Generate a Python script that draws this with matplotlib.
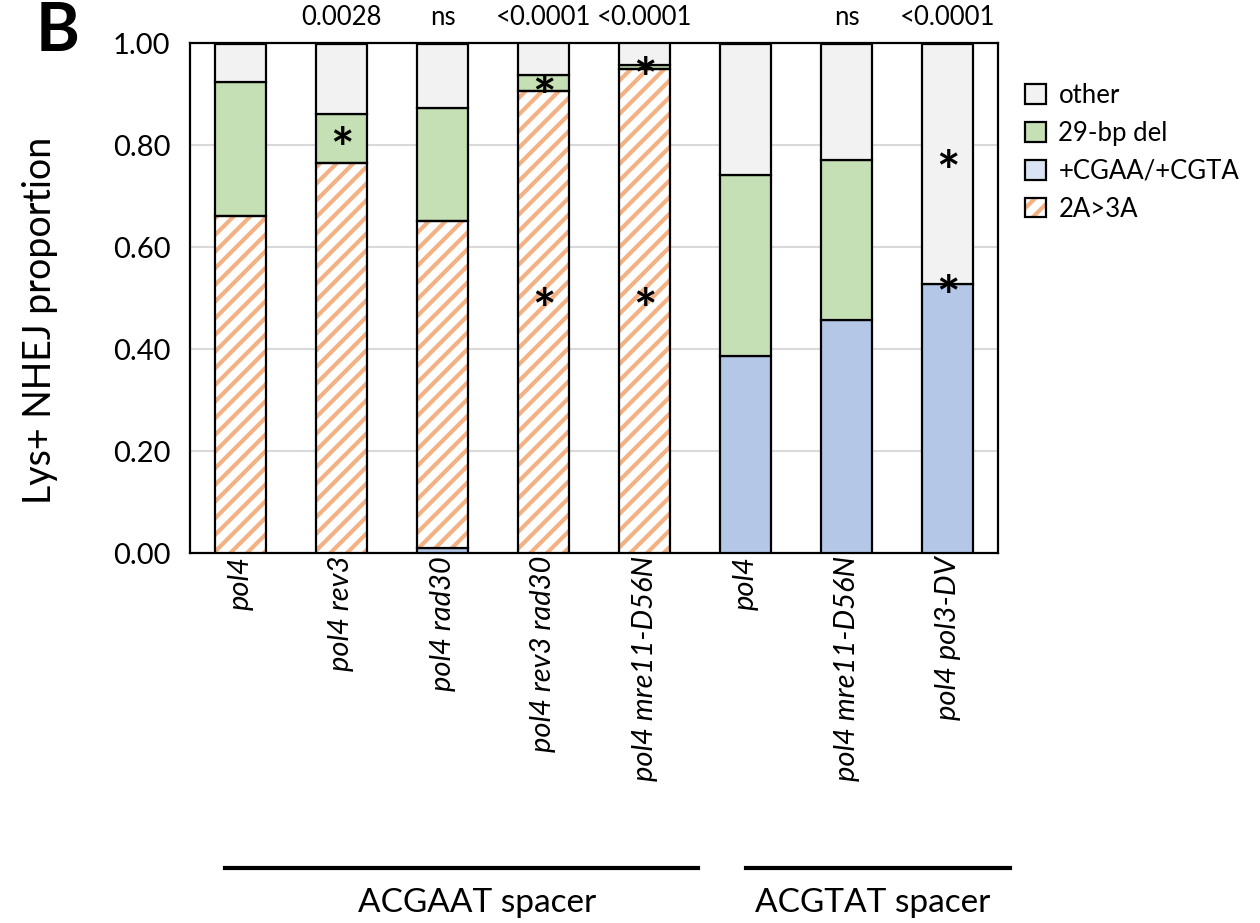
import numpy as np
import matplotlib
matplotlib.use('Agg')
import matplotlib.pyplot as plt
from matplotlib.patches import Patch
from matplotlib.legend_handler import HandlerTuple
import matplotlib.transforms as mtransforms

plt.rcParams['font.family'] = ['Lato', 'DejaVu Sans']
plt.rcParams['hatch.linewidth'] = 3.0

# ---------------- data ----------------
strains = ['pol4', 'pol4 rev3', 'pol4 rad30', 'pol4 rev3 rad30', 'pol4 mre11-D56N',
           'pol4', 'pol4 mre11-D56N', 'pol4 pol3-DV']
ins_blue = [0.0, 0.0, 0.010, 0.0, 0.0, 0.387, 0.457, 0.527]      # +CGAA/+CGTA
a2a3 = [0.661, 0.765, 0.642, 0.906, 0.949, 0.0, 0.0, 0.0]       # 2A>3A
del29 = [0.263, 0.097, 0.221, 0.032, 0.009, 0.355, 0.314, 0.0]   # 29-bp del
pvals = ['', '0.0028', 'ns', '<0.0001', '<0.0001', '', 'ns', '<0.0001']
# asterisks: (bar index, y)
stars = [(1, 0.815), (3, 0.917), (3, 0.50), (4, 0.952), (4, 0.50), (7, 0.77), (7, 0.525)]
groups = ['ACGAAT spacer', 'ACGTAT spacer']

ins_blue = np.array(ins_blue)
a2a3 = np.array(a2a3)
del29 = np.array(del29)
other = 1 - ins_blue - a2a3 - del29

c_other = '#f2f2f2'
c_green = '#c5e0b4'
c_blue = '#b4c7e7'
c_blue_leg = '#dae3f3'
c_orange = '#f4b183'

fig = plt.figure(figsize=(12.6, 9.23), dpi=100)
ax = fig.add_axes([190/1260, 1-553/923, (998-190)/1260, (553-43.5)/923])

x = np.arange(len(strains))
w = 0.5
lw = 1.6

for i in x:
    bot = 0
    if ins_blue[i] > 0:
        ax.bar(i, ins_blue[i], w, bottom=bot, color=c_blue, edgecolor='black', linewidth=lw, zorder=3)
        bot += ins_blue[i]
    if a2a3[i] > 0:
        ax.bar(i, a2a3[i], w, bottom=bot, color='white', edgecolor=c_orange, hatch='//',
               linewidth=0, zorder=3)
        ax.bar(i, a2a3[i], w, bottom=bot, color='none', edgecolor='black', linewidth=lw, zorder=4)
        bot += a2a3[i]
    if del29[i] > 0:
        ax.bar(i, del29[i], w, bottom=bot, color=c_green, edgecolor='black', linewidth=lw, zorder=3)
        bot += del29[i]
    ax.bar(i, other[i], w, bottom=bot, color=c_other, edgecolor='black', linewidth=lw, zorder=3)

# asterisk glyph sits above its box centre, so nudge it down a little
for i, yv in stars:
    ax.text(i, yv - 0.028, '*', ha='center', va='center', fontsize=40, fontweight='bold', zorder=6)

for i, p in enumerate(pvals):
    if p:
        ax.text(i, 1.026, p, ha='center', va='bottom', fontsize=18.5)

ax.set_xlim(-0.5, len(strains) - 0.5)
ax.set_ylim(0, 1)
yt = np.arange(0, 1.01, 0.2)
ax.set_yticks(yt)
ax.set_yticklabels(['{:.2f}'.format(v) for v in yt], fontsize=21)
ax.set_xticks(x)
ax.set_xticklabels(strains, rotation=90, fontsize=21, style='italic')
ax.tick_params(axis='y', length=0, pad=14)
ax.tick_params(axis='x', length=0, pad=2)
ax.grid(axis='y', color='#d9d9d9', linewidth=1.5, zorder=0)
ax.set_axisbelow(True)
for s in ax.spines.values():
    s.set_linewidth(1.6)

# legend
h_other = Patch(facecolor=c_other, edgecolor='black', linewidth=1.6)
h_green = Patch(facecolor=c_green, edgecolor='black', linewidth=1.6)
h_blue = Patch(facecolor=c_blue_leg, edgecolor='black', linewidth=1.6)
h_hatch = (Patch(facecolor='white', edgecolor=c_orange, hatch='//', linewidth=0),
           Patch(facecolor='none', edgecolor='black', linewidth=1.6))
fig.legend([h_other, h_green, h_blue, h_hatch], ['other', '29-bp del', '+CGAA/+CGTA', '2A>3A'],
           handler_map={tuple: HandlerTuple(ndivide=1, pad=0)},
           loc='upper left', bbox_to_anchor=(1025/1260, 1-83/923), frameon=False,
           borderpad=0, borderaxespad=0,
           fontsize=18.5, handlelength=0.8, handleheight=0.8, handletextpad=0.5,
           labelspacing=0.5)

# group lines and labels
trans = mtransforms.blended_transform_factory(ax.transData, fig.transFigure)
ax.plot([-0.153, 4.53], [1-868/923]*2, color='black', lw=3, transform=trans, clip_on=False)
ax.plot([5.0, 7.62], [1-868/923]*2, color='black', lw=3, transform=trans, clip_on=False)
ax.text(2.34, 1-903/923, groups[0], ha='center', va='center', fontsize=24, transform=trans)
ax.text(6.26, 1-903/923, groups[1], ha='center', va='center', fontsize=24, transform=trans)

fig.text(40/1260, 1-320/923, 'Lys+ NHEJ proportion', rotation=90, ha='center', va='center',
         fontsize=27)
fig.text(58/1260, 1-32/923, 'B', ha='center', va='center', fontsize=48, fontweight='bold')

fig.savefig('out.png', dpi=100)
